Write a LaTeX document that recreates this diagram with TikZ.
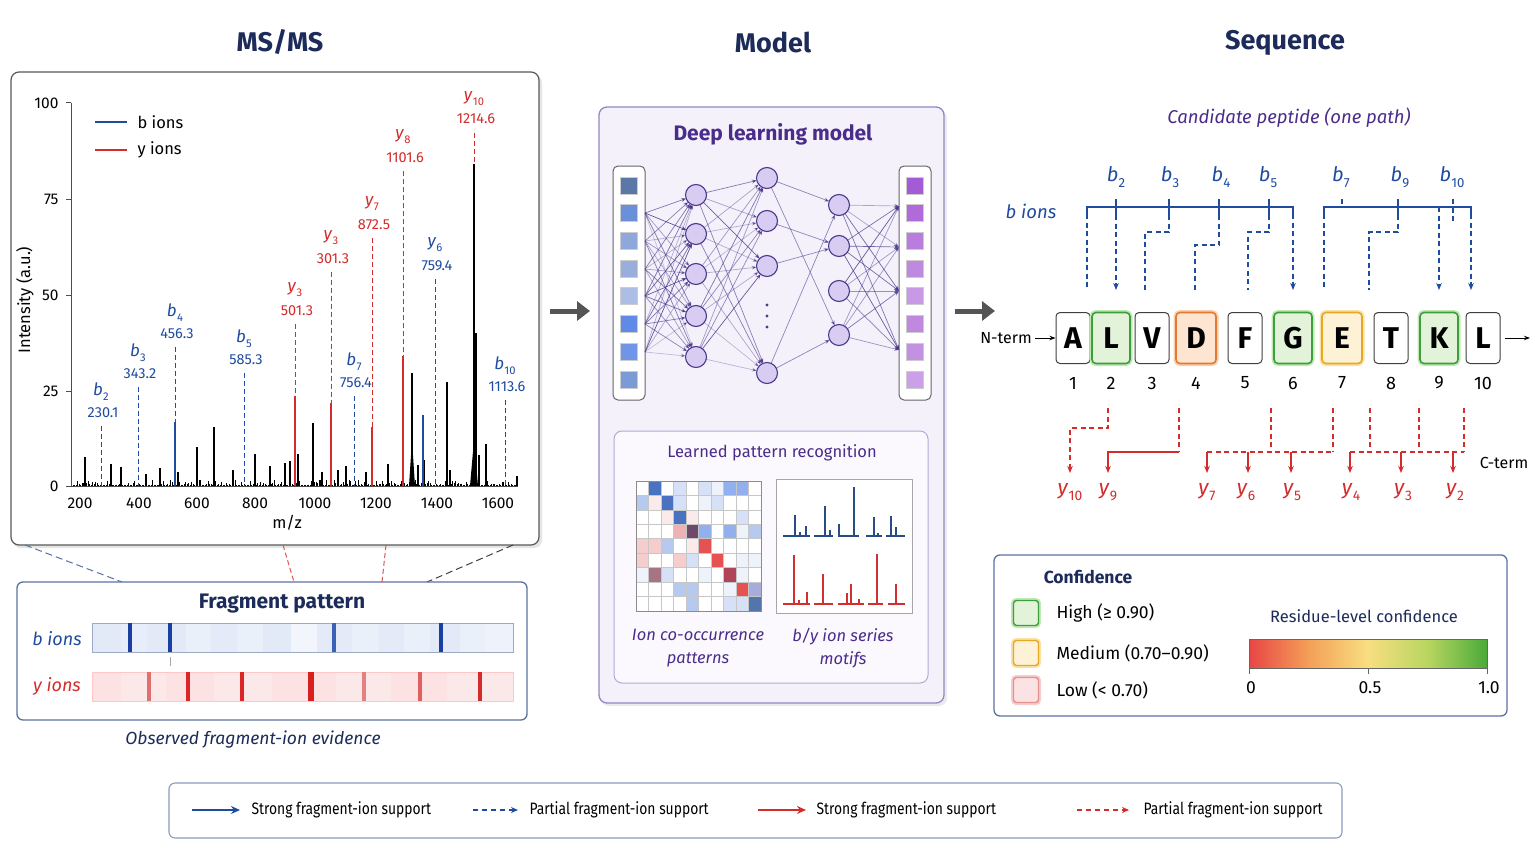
\documentclass[tikz,border=0pt]{standalone}
\usepackage{fontspec}
\usepackage{graphicx}
\setmainfont{Fira Sans}
\newfontfamily\condfont[FakeStretch=0.84]{Fira Sans}
\usetikzlibrary{arrows.meta,calc}
\definecolor{navy}{HTML}{1C2B5A}
\definecolor{bblue}{HTML}{1F4CA0}
\definecolor{yred}{HTML}{D42B2B}
\definecolor{purp}{HTML}{4A2C8A}
\definecolor{steel}{HTML}{5A72A0}
\definecolor{lav}{HTML}{F4F1FB}
\definecolor{lavb}{HTML}{9286C4}
\definecolor{nodef}{HTML}{D8CCF2}
\definecolor{edgec}{HTML}{4B3A8C}
\definecolor{darkg}{HTML}{555555}
\definecolor{hmW}{HTML}{FFFFFF}
\definecolor{hmB0}{HTML}{EEF2FB}
\definecolor{hmB1}{HTML}{D6E0F6}
\definecolor{hmB2}{HTML}{B6CAF0}
\definecolor{hmB3}{HTML}{92B0EE}
\definecolor{hmB5}{HTML}{4A72C0}
\definecolor{hmBD}{HTML}{5474AC}
\definecolor{hmBP}{HTML}{A8ACDC}
\definecolor{hmR0}{HTML}{FBEAEA}
\definecolor{hmR1}{HTML}{F6CDCD}
\definecolor{hmR2}{HTML}{EFB2B4}
\definecolor{hmR4}{HTML}{E65252}
\definecolor{hmR5}{HTML}{B04458}
\definecolor{hmP}{HTML}{6E4A6A}
\definecolor{hmRP}{HTML}{A87484}
\definecolor{motb}{HTML}{2A4C86}
\definecolor{motr}{HTML}{D03030}
\definecolor{gbord}{HTML}{3E9E3E}
\definecolor{gfill}{HTML}{E3F3DA}
\definecolor{gglow}{HTML}{C2E8B4}
\definecolor{obord}{HTML}{E47A32}
\definecolor{ofill}{HTML}{FDE5D2}
\definecolor{oglow}{HTML}{F9CFB0}
\definecolor{ybord}{HTML}{E7A823}
\definecolor{yfill}{HTML}{FDF1D6}
\definecolor{yglow}{HTML}{F8E2A8}
\definecolor{lbord}{HTML}{E89090}
\definecolor{lfill}{HTML}{FBE3E3}
\definecolor{lglow}{HTML}{F6CCCC}
\newcommand\ionl[2]{\textit{#1}\kern0.2pt\raisebox{-0.3em}{\scalebox{0.66}{\upshape #2}}}
\newcommand\peakl[5]{%
  \draw[pdash] (#1,#2) -- (#1,486);
  \node[plab] at (#1,{#2-34}) {\ionl{#3}{#4}};
  \node[pval] at ({#1+2},{#2-13}) {#5};}
\tikzset{
  fs/.style={font=\fontsize{#1}{#1}\selectfont},
  title/.style={font=\fontsize{27}{27}\selectfont\bfseries, text=navy},
  pdash/.style={dash pattern=on 5pt off 3pt, line width=1},
  plab/.style={font=\fontsize{17}{17}\selectfont},
  pval/.style={font=\fontsize{14.5}{14.5}\selectfont},
  neuron/.style={circle, draw=edgec, fill=nodef, line width=1.1, minimum size=21, inner sep=0},
  sq/.style={minimum size=17, inner sep=0, draw=white!80!black, line width=0.4},
  nedge/.style={draw=edgec, line width=0.7, -{Stealth[length=5,width=4]}},
  res/.style={draw=black!75, fill=white, rounded corners=4, line width=1, minimum width=34, minimum height=51, inner sep=0, font=\fontsize{30}{30}\selectfont\bfseries},
  resg/.style={res, draw=gbord, fill=gfill, line width=1.6, minimum width=38, preaction={draw=gglow, line width=5}},
  reso/.style={res, draw=obord, fill=ofill, line width=1.6, minimum width=40, preaction={draw=oglow, line width=5}},
  resy/.style={res, draw=ybord, fill=yfill, line width=1.6, minimum width=40, preaction={draw=yglow, line width=5}},
  bline/.style={bblue, line width=1.2},
  bdash/.style={bblue, line width=1.2, dash pattern=on 5pt off 3.5pt},
  ydash/.style={yred, line width=1.2, dash pattern=on 5pt off 3.5pt},
  tip/.style={-{Stealth[length=7,width=5.5]}},
  ylab/.style={text=yred, font=\fontsize{21}{21}\selectfont},
  blab/.style={text=bblue, font=\fontsize{20}{20}\selectfont},
  legsq/.style={minimum size=25, rounded corners=3, line width=1.4, inner sep=0},
  legtxt/.style={anchor=west, font=\condfont\fontsize{16.5}{16.5}\selectfont},
}
\begin{document}
\begin{tikzpicture}[x=1pt,y=-1pt]
\useasboundingbox (0,0) rectangle (1536,864);
\fill[white] (0,0) rectangle (1536,864);

% ---------- titles
\node[title] (t1) at (280,42) {MS/MS};
\node[title] (t2) at (773,42) {Model};
\node[title] (t3) at (1285,43) {Sequence};

% ---------- MS/MS panel
\fill[black!10, rounded corners=8] (13,75) rectangle (542,548);
\draw[rounded corners=8, draw=black!65, line width=1.2, fill=white] (11,72) rectangle (539,545);
% noise
\pgfmathsetseed{42}
\foreach \x in {73,74.5,...,517}{\pgfmathsetmacro{\h}{1+5*rnd^3}\draw[black, line width=0.7] (\x,486) -- (\x,{486-\h});}
\foreach \x/\t in {85/457,111/464,121/467,146/474,160/468,178/472,197/447,214/427,233/470,255/454,270/466,285/463,290/461,298/454,313/423,322/472,338/470,346/466,366/472,388/464,412/373,418/465,424/460,447/382,450/470,476/333,479/455,486/444,517/476}{\draw[black,line width=1.3] (\x,486)--(\x,\t);}
\draw[black,line width=2.6] (474,486)--(474,164);
\fill[black] (470,486) -- (474,440) -- (478,486) -- cycle;
\fill[black] (409,486) -- (412,440) -- (415,486) -- cycle;
% axes
\draw[line width=1, black!70] (71,103) -- (71,486) -- (518,486);
\foreach \v/\y in {100/103,75/199,50/295,25/391,0/486}{\draw[line width=1,black!70] (66,\y)--(71,\y); \node[fs=15.5, anchor=east] at (62,\y) {\v};}
\foreach \v/\x in {200/80,400/139,600/197,800/255,1000/315,1200/376,1400/437,1600/498}{\node[fs=15.5] at (\x,503) {\v};}
\node[fs=16.5] (mz) at (287,523) {m/z};
\node[fs=16.5, rotate=90] (ylabel) at (25,300) {Intensity (a.u.)};
% legend
\draw[bblue, line width=2] (95,122)--(127,122); \node[fs=16.5, anchor=west] at (134,122) {b ions};
\draw[yred, line width=2] (95,150)--(127,150); \node[fs=16.5, anchor=west] at (134,150) {y ions};
% solid coloured peaks
\draw[yred, line width=2] (295,486)--(295,396);
\draw[yred, line width=2] (331,486)--(331,403);
\draw[yred, line width=2] (372,486)--(372,427);
\draw[yred, line width=2.6] (403,486)--(403,356);
\draw[bblue, line width=1.6] (175,486)--(175,422);
\draw[bblue, line width=1.3] (423,486)--(423,415);
% labelled peaks
\begin{scope}[bblue]
\peakl{101}{426}{b}{2}{230.1}
\peakl{138}{387}{b}{3}{343.2}
\peakl{175}{347}{b}{4}{456.3}
\peakl{244}{373}{b}{5}{585.3}
\peakl{354}{396}{b}{7}{756.4}
\peakl{435}{279}{y}{6}{759.4}
\peakl{505}{400}{b}{10}{1113.6}
\end{scope}
\begin{scope}[yred]
\peakl{295}{324}{y}{3}{501.3}
\peakl{331}{272}{y}{3}{301.3}
\peakl{372}{238}{y}{7}{872.5}
\peakl{403}{171}{y}{8}{1101.6}
\draw[pdash] (474,133)--(474,164);
\node[plab] at (474,99) {\ionl{y}{10}};
\node[pval] at (476,119) {1214.6};
\end{scope}

% ---------- zoom lines
\draw[steel, line width=1, dash pattern=on 7pt off 4pt] (25,545) -- (122,582);
\draw[yred!80, line width=1, dash pattern=on 5pt off 3pt] (283,545) -- (294,582);
\draw[yred!80, line width=1, dash pattern=on 5pt off 3pt] (386,545) -- (382,582);
\draw[black!75, line width=1, dash pattern=on 7pt off 4pt] (513,545) -- (427,582);

% ---------- fragment pattern
\draw[rounded corners=6, draw=steel, line width=1.3, fill=white] (17,582) rectangle (527,720);
\node[font=\fontsize{21}{21}\selectfont\bfseries, text=navy] (fp) at (282,604) {Fragment pattern};
\node[text=bblue, font=\fontsize{18}{18}\selectfont\itshape] at (57,639) {b ions};
\node[text=yred, font=\fontsize{18}{18}\selectfont\itshape] at (57,686) {y ions};
\foreach \a/\b/\c in {92/121/E2E9F7,121/147/E8EEF9,147/186/E2E9F7,186/211/EAF0FA,211/237/E4EAF7,237/263/EAF0FA,263/291/E2E9F7,291/317/F2F5FB,317/352/E4EAF7,352/379/EAF0FA,379/404/E4EAF7,404/430/EAF0FA,430/460/E2E9F7,460/486/EAF0FA,486/513/EEF2FB}{\definecolor{tmpc}{HTML}{\c}\fill[tmpc] (\a,623) rectangle (\b,652); \draw[draw=steel!50, line width=0.8] (\b,623)--(\b,652);}
\draw[steel!60, line width=0.8] (92,623) rectangle (513,652);
\foreach \x/\w/\c in {130/4/1A3FA0,170/4/1A3FA0,334/4/3A62B8,441/4/1A3FA0}{\definecolor{tmpc}{HTML}{\c}\fill[tmpc] ({\x-\w/2},623) rectangle ({\x+\w/2},652);}
\draw[black!35, line width=0.8] (170,657)--(170,666);
\foreach \a/\b/\c in {92/121/FCE2E2,121/166/FBE8E8,166/214/FCE2E2,214/272/FBE8E8,272/336/FCE2E2,336/391/FBE8E8,391/447/FCE2E2,447/513/FBE8E8}{\definecolor{tmpc}{HTML}{\c}\fill[tmpc] (\a,672) rectangle (\b,701); \draw[draw=red!20, line width=0.8] (\b,672)--(\b,701);}
\draw[red!22, line width=0.8] (92,672) rectangle (513,701);
\foreach \x/\w/\c in {149/3.5/E07070,188/4/DC2626,242/4/DC2626,311/5.5/D82020,364/3.5/E58080,420/4/E06060,480/4/D42B2B}{\definecolor{tmpc}{HTML}{\c}\fill[tmpc] ({\x-\w/2},672) rectangle ({\x+\w/2},701);}
\node[text=navy, font=\fontsize{17.5}{17.5}\selectfont\itshape] (obs) at (253,740) {Observed fragment-ion evidence};

% ---------- big arrows
\draw[darkg, line width=5, -{Triangle[length=13,width=19]}] (550,311) -- (590,311);
\draw[darkg, line width=5, -{Triangle[length=13,width=19]}] (955,311) -- (995,311);

% ---------- model panel
\fill[black!8, rounded corners=8] (601,110) rectangle (947,706);
\draw[rounded corners=8, draw=lavb, line width=1.3, fill=lav] (599,107) rectangle (944,703);
\node[font=\fontsize{21}{21}\selectfont\bfseries, text=purp] (dlm) at (773,134) {Deep learning model};
\draw[rounded corners=5, draw=black!60, line width=1, fill=white] (613,166) rectangle (645,400);
\draw[rounded corners=5, draw=black!60, line width=1, fill=white] (899,166) rectangle (931,400);
% coordinates
\foreach \k/\y in {1/195,2/234,3/274,4/316,5/357} \coordinate (h1-\k) at (696,\y);
\foreach \k/\y in {1/178,2/221,3/266,4/373} \coordinate (h2-\k) at (767,\y);
\foreach \k/\y in {1/205,2/246,3/291,4/335} \coordinate (h3-\k) at (839,\y);
\foreach \j/\y in {1/213,2/241,3/269,4/296,5/324,6/352} \coordinate (in-\j) at (645,\y);
\foreach \j/\y in {1/206,2/247,3/291,4/350} \coordinate (out-\j) at (899,\y);
\pgfmathsetseed{11}
\foreach \j in {1,...,6}{\foreach \k in {1,...,5}{\pgfmathsetmacro{\op}{0.25+0.65*rnd}\draw[nedge, draw opacity=\op, shorten >=10.5pt] (in-\j) -- (h1-\k);}}
\foreach \j in {1,...,5}{\foreach \k in {1,...,4}{\pgfmathsetmacro{\op}{0.3+0.6*rnd}\draw[nedge, draw opacity=\op, shorten <=10.5pt, shorten >=10.5pt] (h1-\j) -- (h2-\k);}}
\foreach \j/\k in {1/1,1/4,2/2,3/2,4/1,4/4}{\draw[nedge, draw opacity=0.6, shorten <=10.5pt, shorten >=10.5pt] (h2-\j) -- (h3-\k);}
\foreach \j in {1,...,4}{\foreach \k in {1,...,4}{\pgfmathsetmacro{\op}{0.35+0.6*rnd}\draw[nedge, draw opacity=\op, shorten <=10.5pt] (h3-\j) -- (out-\k);}}
\foreach \k in {1,...,5} \node[neuron] (n1-\k) at (h1-\k) {};
\foreach \k in {1,...,4} \node[neuron] (n2-\k) at (h2-\k) {};
\foreach \k in {1,...,4} \node[neuron] (n3-\k) at (h3-\k) {};
\foreach \y in {305,316,327} \fill[edgec] (767,\y) circle (1.6);
\foreach \k/\y/\c in {1/186/5B77A8,2/213/6A90DA,3/241/8EA8DC,4/269/9AAEDC,5/296/ACBEE6,6/324/5F8AE6,7/352/6F95E6,8/380/7B9AD6}{\definecolor{tmpc}{HTML}{\c}\node[sq, fill=tmpc] (isq-\k) at (629,\y) {};}
\foreach \k/\y/\c in {1/186/A45BD6,2/213/B06ADA,3/241/B87DDD,4/269/BF89E0,5/296/C89AE6,6/324/BF89E0,7/352/C490E2,8/380/CCA0E6}{\definecolor{tmpc}{HTML}{\c}\node[sq, fill=tmpc] (osq-\k) at (915,\y) {};}

% learned pattern box
\draw[rounded corners=8, draw=lavb!70, line width=1, fill=white!60!lav] (614,431) rectangle (928,683);
\node[font=\fontsize{16.5}{16.5}\selectfont, text=purp] (lpr) at (772,453) {Learned pattern recognition};
\foreach \r/\row in {1/{W,B5,W,B1,W,B1,B0,B3,B3,W},2/{B2,R0,B5,B1,W,B0,B1,W,W,W},3/{W,W,R0,B5,R0,W,W,W,B1,W},4/{W,W,W,R2,P,B3,W,B3,B0,B2},5/{R1,R1,B2,W,R0,R4,W,W,W,W},6/{R1,W,W,R1,B1,W,R4,W,B0,B0},7/{B0,RP,B1,W,W,B0,W,R5,B0,W},8/{W,W,W,B2,B2,W,W,B0,R4,BP},9/{W,W,W,W,B2,W,W,B1,B1,BD}}{%
  \foreach \c [count=\cc] in \row {\fill[hm\c] ({636+(\cc-1)*12.5},{481+(\r-1)*14.44}) rectangle ++(12.5,14.44);}}
\foreach \i in {1,...,9}{\draw[black!22, line width=0.6] ({636+\i*12.5},481) -- ({636+\i*12.5},611);}
\foreach \j in {1,...,8}{\draw[black!22, line width=0.6] (636,{481+\j*14.44}) -- (761,{481+\j*14.44});}
\draw[black!45, line width=0.8] (636,481) rectangle (761,611);
\draw[black!35, line width=0.8, fill=white] (776,479) rectangle (912,613);
\begin{scope}[motb, line width=1.1]
\foreach \a/\b in {783/810,814/833,838/859,866/882,886/905} \draw (\a,536)--(\b,536);
\foreach \x/\t in {795/515,800/532,806/526,825/506,830/530,854/487,839/524,874/517,878/533,891/516,896/527} \draw (\x,536)--(\x,\t);
\end{scope}
\begin{scope}[motr, line width=1.1]
\foreach \a/\b in {783/810,814/833,838/864,868/883,888/905} \draw (\a,604)--(\b,604);
\foreach \x/\t in {794/555,799/600,807/592,823/574,847/593,851/584,859/599,877/554,896/584} \draw (\x,604)--(\x,\t);
\end{scope}
\node[text=purp, font=\fontsize{16.5}{23}\selectfont\itshape, align=center] (cap1) at (698,648) {Ion co-occurrence\\patterns};
\node[text=purp, font=\fontsize{16.5}{23}\selectfont\itshape, align=center] (cap2) at (843,648) {b/y ion series\\motifs};

% ---------- sequence
\node[text=purp, font=\fontsize{18.5}{18.5}\selectfont\itshape] (cand) at (1289,118) {Candidate peptide (one path)};
\node[res] (r1) at (1073,338) {A};
\node[resg] (r2) at (1111,338) {L};
\node[res] (r3) at (1152,338) {V};
\node[reso] (r4) at (1196,338) {D};
\node[res] (r5) at (1245,338) {F};
\node[resg] (r6) at (1293,338) {G};
\node[resy] (r7) at (1342,338) {E};
\node[res] (r8) at (1391,338) {T};
\node[resg] (r9) at (1439,338) {K};
\node[res] (r10) at (1483,338) {L};
\foreach \i/\x in {1/1073,2/1111,3/1152,4/1196,5/1245,6/1293,7/1342,8/1391,9/1439,10/1483} \node[fs=18] (num\i) at (\x,383) {\i};
\node[fs=16] (nterm) at (1006,338) {N-term};
\draw[line width=1, -{Stealth[length=6,width=4.5]}] (nterm.east) -- (r1.west);
\coordinate (cend) at (1530,338);
\draw[line width=1, -{Stealth[length=6,width=4.5]}] ($(r10.east)+(4,0)$) -- (cend);
% b ions brackets
\node[text=bblue, font=\fontsize{18.5}{18.5}\selectfont\itshape] (bions) at (1031,211) {b ions};
\foreach \x/\n in {1116/2,1170/3,1221/4,1268/5,1341/7,1400/9,1452/10} \node[blab] at (\x,177) {\ionl{b}{\n}};
\draw[bline] (1087,214) -- (1087,207) -- (1293,207) -- (1293,214);
\draw[bline] (1324,214) -- (1324,207) -- (1471,207) -- (1471,214);
\foreach \x in {1116,1169,1219,1269,1398} \draw[bline] (\x,199) -- (\x,215);
\draw[bdash] (1342,199) -- (1342,207);
\draw[bdash] (1453,199) -- (1453,222);
\foreach \x in {1087,1293,1324,1471} \draw[bdash] (\x,214) -- (\x,290);
\draw[bdash, tip] (1116,215) -- (1116,290);
\draw[bdash, tip] (1293,214) -- (1293,290);
\draw[bdash, tip] (1439,207) -- (1439,290);
\draw[bdash, tip] (1471,214) -- (1471,290);
\draw[bdash] (1169,215) -- (1169,232) -- (1145,232) -- (1145,290);
\draw[bdash] (1219,215) -- (1219,245) -- (1195,245) -- (1195,290);
\draw[bdash] (1269,215) -- (1269,232) -- (1248,232) -- (1248,290);
\draw[bdash] (1398,215) -- (1398,232) -- (1369,232) -- (1369,290);
% y ions connectors
\draw[ydash, tip] (1108,408) -- (1108,428) -- (1070,428) -- (1070,473);
\draw[ydash] (1179,408) -- (1179,452);
\draw[yred, line width=1.3, tip] (1179,452) -- (1108,452) -- (1108,473);
\foreach \x in {1271,1333,1370,1419,1464} \draw[ydash] (\x,408) -- (\x,452);
\draw[ydash] (1207,452) -- (1333,452);
\draw[ydash] (1350,452) -- (1464,452);
\foreach \x in {1207,1248,1291,1350,1401,1453} \draw[yred, line width=1.2, tip] (\x,452) -- (\x,473);
\foreach \x/\n in {1070/10,1108/9,1207/7,1246/6,1292/5,1351/4,1403/3,1455/2} \node[ylab] at (\x,492) {\ionl{y}{\n}};
\node[fs=16] (cterm) at (1504,463) {C-term};

% ---------- confidence legend
\draw[rounded corners=6, draw=steel, line width=1.3, fill=white] (994,555) rectangle (1507,716);
\node[font=\fontsize{17.5}{17.5}\selectfont\bfseries, text=navy] (conf) at (1088,577) {Confidence};
\node[legsq, draw=gbord, fill=gfill, preaction={draw=gglow, line width=5}] (lh) at (1026,613) {};
\node[legsq, draw=ybord, fill=yfill, preaction={draw=yglow, line width=5}] (lm) at (1026,653) {};
\node[legsq, draw=lbord, fill=lfill, preaction={draw=lglow, line width=5}] (ll) at (1026,690) {};
\node[fs=17.5, anchor=west] at (1053,613) {High (≥ 0.90)};
\node[fs=17.5, anchor=west] at (1053,653) {Medium (0.70–0.90)};
\node[fs=17.5, anchor=west] at (1053,690) {Low (< 0.70)};
\node[font=\fontsize{16.5}{16.5}\selectfont, text=navy] (rlc) at (1364,616) {Residue-level confidence};
\definecolor{c0}{HTML}{E84545}\definecolor{c1}{HTML}{F4A058}\definecolor{c2}{HTML}{F8DE80}\definecolor{c3}{HTML}{B8D660}\definecolor{c4}{HTML}{4AAA3A}
\shade[left color=c0, right color=c1] (1249,639) rectangle (1309,668);
\shade[left color=c1, right color=c2] (1308.5,639) rectangle (1368,668);
\shade[left color=c2, right color=c3] (1367.5,639) rectangle (1428,668);
\shade[left color=c3, right color=c4] (1427.5,639) rectangle (1487,668);
\draw[black!60, line width=0.8] (1249,639) rectangle (1487,668);
\foreach \x/\v in {1249/0,1368/0.5,1487/1.0}{\draw[black!60, line width=0.8] (\x,668)--(\x,674); \node[fs=17.5] at ({\x+2},688) {\v};}

% ---------- bottom legend
\draw[rounded corners=6, draw=steel!70, line width=1.1, fill=white] (169,783) rectangle (1342,838);
\draw[bblue, line width=2.2, -{Stealth[length=9,width=8]}] (192,810) -- (240,810);
\node[legtxt] at (248,810) {Strong fragment-ion support};
\draw[bblue, line width=1.4, dash pattern=on 5pt off 4pt, -{Stealth[length=7,width=6]}] (473,810) -- (518,810);
\node[legtxt] at (526,810) {Partial fragment-ion support};
\draw[yred, line width=2.2, -{Stealth[length=9,width=8]}] (758,810) -- (806,810);
\node[legtxt] at (813,810) {Strong fragment-ion support};
\draw[yred, line width=1.4, dash pattern=on 5pt off 4pt, -{Stealth[length=7,width=6]}] (1077,810) -- (1129,810);
\node[legtxt] at (1140,810) {Partial fragment-ion support};
\end{tikzpicture}
\end{document}
